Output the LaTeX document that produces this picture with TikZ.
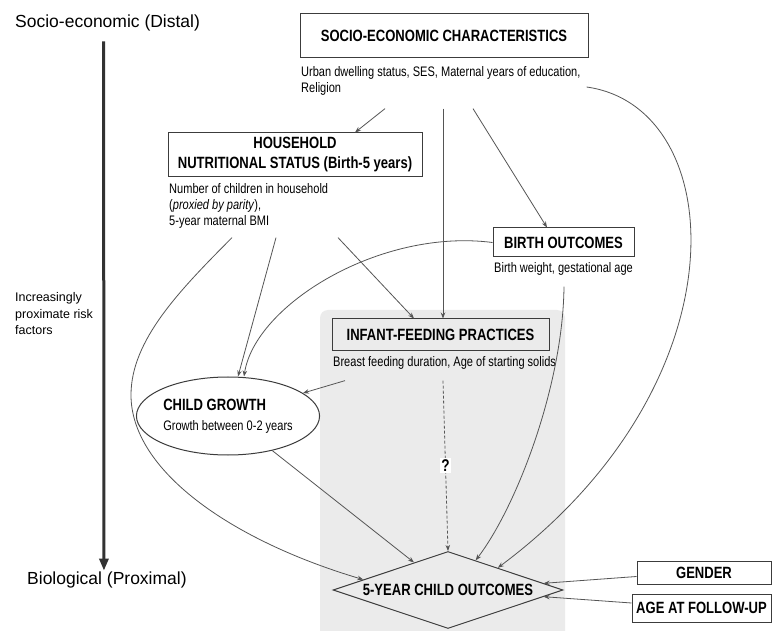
\documentclass[tikz,border=0pt]{standalone}
\usepackage{fontspec}
\setmainfont{Liberation Sans}
\newfontfamily\narrowfont[FakeStretch=0.8]{Liberation Sans}
\usetikzlibrary{arrows.meta,shapes.geometric}
\definecolor{boxline}{RGB}{60,60,60}
\definecolor{linkgray}{RGB}{85,85,85}
\definecolor{panelgray}{RGB}{235,235,235}
\definecolor{axisgray}{RGB}{50,50,50}

\begin{document}
\begin{tikzpicture}[x=1pt,y=-1pt,
box/.style={draw=boxline,line width=1pt,align=center,inner sep=0pt,font=\narrowfont\bfseries\fontsize{16.3}{20}\selectfont},
info/.style={anchor=west,align=left,inner sep=0pt,font=\narrowfont\fontsize{13.8}{16}\selectfont},
side/.style={anchor=west,inner sep=0pt,font=\fontsize{17.5}{21}\selectfont},
arr/.style={-{Stealth[length=6pt,width=4.5pt]},line width=.8pt,draw=linkgray},
dasharr/.style={arr,dash pattern=on 3pt off 2pt},
axis/.style={-{Triangle[length=12pt,width=9pt]},line width=3pt,draw=axisgray},
qmark/.style={fill=white,inner sep=1.5pt,font=\narrowfont\bfseries\fontsize{17}{18}\selectfont}]

\fill[white](0,0)rectangle(772,631);
\useasboundingbox(0,0)rectangle(772,631);
\fill[panelgray,rounded corners=8pt](320,310)rectangle(565,650);

\node[side](distal)at(15,23){Socio-economic (Distal)};
\node[side](proximal)at(27,580){Biological (Proximal)};
\node[side,align=left,font=\fontsize{12.5}{16.5}\selectfont](risk)at(15,314){Increasingly\\proximate risk\\factors};
\draw[axis]([xshift=-4pt,yshift=-10pt]distal.south)--([xshift=-3pt,yshift=1pt]proximal.north);

\node[box,minimum width=288,minimum height=44](ses)at(444,36){SOCIO-ECONOMIC CHARACTERISTICS};
\node[info](sesinfo)at(301,81){Urban dwelling status, SES, Maternal years of education,\\Religion};
\node[box,minimum width=254,minimum height=44](household)at(295,155){HOUSEHOLD\\NUTRITIONAL STATUS (Birth-5 years)};
\node[info](hhinfo)at(169,206){Number of children in household\\(\textit{proxied by parity}),\\5-year maternal BMI};
\node[box,minimum width=141,minimum height=29](birth)at(563.5,242.5){BIRTH OUTCOMES};
\node[info](birthinfo)at(494,269){Birth weight, gestational age};
\node[box,minimum width=217,minimum height=32](infant)at(440.5,335){INFANT-FEEDING PRACTICES};
\node[info](infantinfo)at(333,363){Breast feeding duration, Age of starting solids};
\node[ellipse,draw=boxline,line width=1pt,fill=white,minimum width=176,minimum height=78,align=left,inner sep=0pt,
 font=\narrowfont\fontsize{13.8}{20}\selectfont](growth)at(228,416){{\bfseries\fontsize{16.3}{20}\selectfont CHILD GROWTH}\\Growth between 0-2 years};
\node[diamond,draw=boxline,line width=1pt,shape aspect=3,minimum width=230,minimum height=77,inner sep=0pt,
 font=\narrowfont\bfseries\fontsize{16.3}{20}\selectfont](outcome)at(448,590){5-YEAR CHILD OUTCOMES};
\node[box,minimum width=134,minimum height=23](gender)at(704,572.5){GENDER};
\node[box,minimum width=139,minimum height=28](followup)at(701.5,608){AGE AT FOLLOW-UP};

\draw[arr]([xshift=84pt,yshift=-13pt]sesinfo.south west)--([xshift=60pt]household.north);
\draw[arr]([xshift=142pt,yshift=-13pt]sesinfo.south west)--([xshift=2.5pt]infant.north);
\draw[arr]([xshift=172pt,yshift=-13pt]sesinfo.south west)--([xshift=-16.5pt]birth.north);
\draw[arr]([xshift=6pt,yshift=-6pt]sesinfo.east)..controls(730,107)and(747,382)..(outcome.24);
\draw[arr]([xshift=107pt,yshift=-9pt]hhinfo.south west)--([xshift=10pt]growth.north);
\draw[arr]([xshift=169pt,yshift=-9pt]hhinfo.south west)--([xshift=-26.5pt]infant.north);
\draw[arr]([xshift=63pt,yshift=-9pt]hhinfo.south west)..controls(180,290)and(131,340)..(131,395)
 ..controls(131,470)and(230,540)..(outcome.173);
\draw[arr](birth.west)..controls(380,228)and(255,305)..([xshift=16pt]growth.north);
\draw[arr]([xshift=70pt,yshift=-11pt]birthinfo.south west)..controls(563,385)and(517,506)..(outcome.47);
\draw[arr]([xshift=12pt,yshift=-11pt]infantinfo.south west)--(growth.17);
\draw[dasharr]([xshift=110pt,yshift=-11pt]infantinfo.south west)--node[qmark](query){?}(outcome.north);
\draw[arr](growth.-38)--(outcome.141);
\draw[arr]([yshift=-4pt]gender.west)--(outcome.4);
\draw[arr]([yshift=5pt]followup.west)--(outcome.-4);
\end{tikzpicture}
\end{document}
